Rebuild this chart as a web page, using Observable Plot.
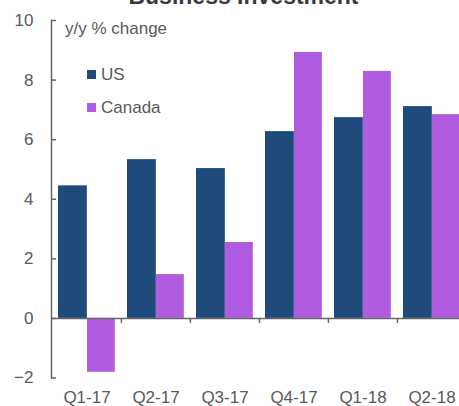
<!DOCTYPE html>
<html>
<head>
<meta charset="utf-8">
<script src="https://cdn.jsdelivr.net/npm/d3@7"></script>
<script src="https://cdn.jsdelivr.net/npm/@observablehq/plot@0.6"></script>
<style>
  html, body { margin: 0; padding: 0; background: #fff; overflow: hidden; }
  #wrap { position: relative; width: 459px; height: 406px; overflow: hidden; font-family: "Liberation Sans", Arial, sans-serif; }
  #wrap svg { position: absolute; left: 0; top: 0; }
  .title { position: absolute; left: 0; width: 487px; text-align: center; top: -17px; font-size: 23px; font-weight: bold; color: #3a3a3a; white-space: nowrap; }
  .sub { position: absolute; left: 65px; top: 19px; font-size: 17px; color: #595959; white-space: nowrap; }
  .leg { position: absolute; left: 87px; font-size: 17px; color: #595959; white-space: nowrap; line-height: 20px; }
  .leg span.sw { display: inline-block; width: 9px; height: 9px; margin-right: 5px; vertical-align: 1px; }
</style>
</head>
<body>
<div id="wrap">
  <div class="title">Business Investment</div>
</div>
<script>
const quarters = ["Q1-17", "Q2-17", "Q3-17", "Q4-17", "Q1-18", "Q2-18"];
const usValues = [4.45, 5.33, 5.03, 6.27, 6.74, 7.11];
const canadaValues = [-1.81, 1.47, 2.55, 8.93, 8.29, 6.84];
const yTicks = [-2, 0, 2, 4, 6, 8, 10];
const seriesNames = ["US", "Canada"];
const seriesColors = ["#1f4a7c", "#b05ce0"];
const subtitle = "y/y % change";

const usData = quarters.map((q, i) => ({quarter: q, value: usValues[i]}));
const caData = quarters.map((q, i) => ({quarter: q, value: canadaValues[i]}));

const xRange = [51, 466];
const step = (xRange[1] - xRange[0]) / quarters.length;
const textColor = "#595959";

const chart = Plot.plot({
  width: 459,
  height: 406,
  marginLeft: 51,
  marginRight: 0,
  marginTop: 20,
  marginBottom: 28.5,
  style: {fontFamily: "'Liberation Sans', Arial, sans-serif", fontSize: "17px", color: textColor, background: "transparent", overflow: "visible"},
  x: {domain: quarters, range: xRange, padding: 0},
  y: {domain: [-2, 10]},
  marks: [
    Plot.barY(usData, {x: "quarter", y: "value", fill: seriesColors[0], insetLeft: 6, insetRight: step - 35}),
    Plot.barY(caData, {x: "quarter", y: "value", fill: seriesColors[1], insetLeft: 35, insetRight: step - 63}),
    Plot.ruleY([0], {stroke: "#666", strokeWidth: 1.5}),
    Plot.ruleX(quarters.slice(1), {x: d => d, y1: 0, y2: 0, insetBottom: -5, dx: -step / 2, stroke: "#666", strokeWidth: 1.5}),
    Plot.frame({anchor: "left", stroke: "#666", strokeWidth: 1.5}),
    Plot.axisY(yTicks, {tickSize: -5, tickPadding: 23, stroke: "#666", strokeWidth: 1.5, fill: textColor, fontSize: 17, label: null}),
    Plot.axisX({tickSize: 0, tickPadding: 12.5, fill: textColor, fontSize: 17, label: null})
  ]
});

const wrap = document.getElementById("wrap");
wrap.insertBefore(chart, wrap.firstChild);

const sub = document.createElement("div");
sub.className = "sub";
sub.textContent = subtitle;
wrap.appendChild(sub);

const legTops = [65, 98];
seriesNames.forEach((name, i) => {
  const d = document.createElement("div");
  d.className = "leg";
  d.style.top = legTops[i] + "px";
  const sw = document.createElement("span");
  sw.className = "sw";
  sw.style.background = seriesColors[i];
  d.appendChild(sw);
  d.appendChild(document.createTextNode(name));
  wrap.appendChild(d);
});
</script>
</body>
</html>
